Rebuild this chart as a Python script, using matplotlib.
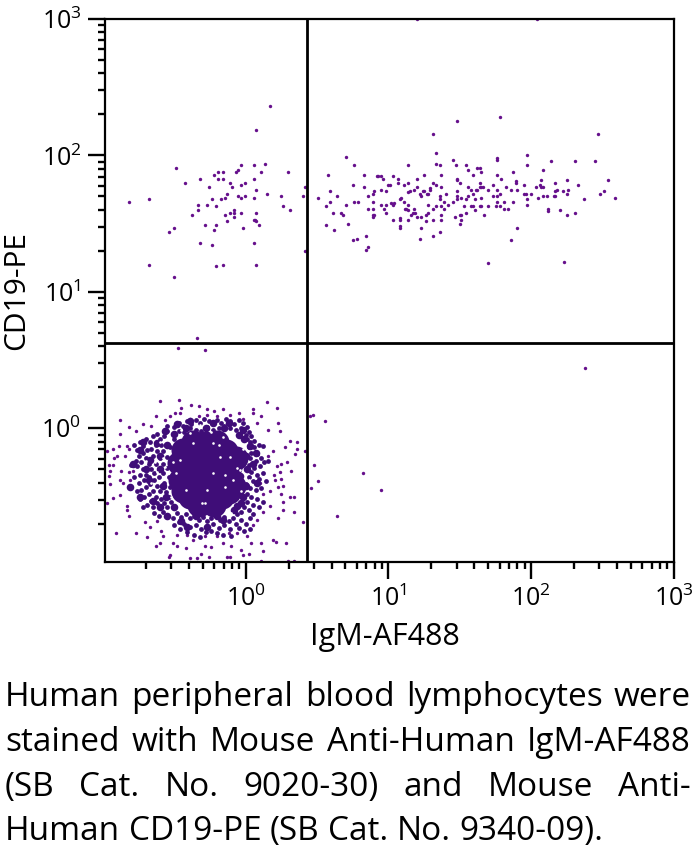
import numpy as np
import matplotlib
matplotlib.use("Agg")
import matplotlib.pyplot as plt

FONT = "Open Sans"
plt.rcParams['font.family'] = [FONT, 'DejaVu Sans']
plt.rcParams['mathtext.fontset'] = 'custom'
plt.rcParams['mathtext.rm'] = FONT
plt.rcParams['mathtext.default'] = 'rm'

# All events as (log10 IgM-AF488, log10 CD19-PE)
upper_right = [
(1.78,2.28),(1.48,2.25),(1.31,2.16),(2.47,2.16),(.70,1.99),(1.33,2.02),(1.97,2.00),(1.76,1.98),(1.76,1.97),(1.45,1.97),
(1.33,1.94),(.76,1.93),(1.14,1.93),(1.36,1.93),(1.47,1.93),(1.54,1.93),(1.97,1.93),(2.14,1.96),(2.31,1.96),(2.45,1.96),
(1.62,1.91),(1.64,1.91),(1.56,1.89),(1.87,1.88),(1.65,1.88),(2.08,1.89),(.58,1.86),(.83,1.86),(.92,1.85),(.93,1.85),
(.95,1.85),(.96,1.83),(1.03,1.85),(1.25,1.86),(1.37,1.86),(1.59,1.86),(1.76,1.86),(1.07,1.83),(1.20,1.83),(1.48,1.82),
(1.48,1.83),(1.79,1.83),(2.54,1.82),(2.25,1.82),(2.17,1.80),(2.07,1.82),(1.89,1.81),(1.89,1.80),(1.07,1.80),(1.14,1.80),
(1.31,1.80),(1.50,1.80),(1.64,1.80),(.75,1.78),(1.00,1.78),(1.01,1.78),(1.11,1.78),(1.33,1.78),(1.73,1.78),(1.95,1.78),
(2.33,1.78),(.83,1.77),(1.20,1.77),(1.37,1.77),(1.82,1.77),(1.65,1.77),(1.64,1.77),(1.66,1.77),(2.06,1.78),(2.03,1.77),
(2.08,1.77),(2.07,1.77),(.59,1.74),(.95,1.75),(.90,1.74),(1.18,1.75),(1.29,1.75),(1.29,1.76),(1.56,1.77),(1.575,1.75),
(1.61,1.75),(1.62,1.75),(1.70,1.75),(1.76,1.75),(1.86,1.75),(1.90,1.75),(2.18,1.75),(2.26,1.75),(2.22,1.74),(.98,1.74),
(1.14,1.735),(1.15,1.74),(1.24,1.74),(1.25,1.74),(1.40,1.72),(1.48,1.74),(1.59,1.72),(1.78,1.72),(1.95,1.72),(1.96,1.72),
(2.00,1.72),(2.17,1.74),(2.25,1.72),(2.48,1.72),(2.51,1.74),(.89,1.72),(1.22,1.72),(1.28,1.72),(1.27,1.72),(.64,1.705),
(.86,1.70),(1.23,1.70),(1.36,1.70),(1.48,1.70),(1.56,1.70),(1.73,1.70),(1.76,1.70),(2.08,1.70),(2.11,1.70),(2.17,1.70),
(2.16,1.70),(.51,1.69),(1.08,1.68),(1.09,1.69),(1.51,1.69),(1.65,1.69),(2.05,1.69),(2.59,1.69),(2.37,1.68),(.59,1.66),
(.70,1.64),(.76,1.66),(.79,1.66),(.89,1.66),(.95,1.64),(.98,1.64),(1.03,1.64),(1.02,1.65),(1.04,1.65),(1.11,1.66),
(1.14,1.64),(1.28,1.64),(1.36,1.68),(1.39,1.66),(1.42,1.64),(1.45,1.66),(1.48,1.68),(1.54,1.68),(1.605,1.68),(1.76,1.66),
(1.81,1.66),(1.87,1.66),(1.97,1.68),(1.97,1.64),(.56,1.63),(.86,1.61),(.89,1.61),(.97,1.61),(1.115,1.61),(1.125,1.61),
(1.18,1.61),(1.31,1.61),(1.33,1.63),(1.37,1.63),(1.39,1.61),(1.53,1.63),(1.575,1.63),(1.59,1.63),(1.64,1.63),(1.65,1.63),
(1.70,1.63),(1.75,1.63),(1.78,1.63),(1.81,1.61),(1.84,1.61),(1.14,1.60),(.98,1.58),(.61,1.58),(.67,1.58),(.68,1.56),
(1.185,1.58),(1.17,1.58),(1.28,1.58),(1.54,1.58),(1.605,1.60),(2.12,1.605),(2.12,1.595),(2.20,1.60),(2.31,1.58),(2.25,1.56),
(.89,1.56),(.90,1.56),(.89,1.55),(1.155,1.56),(1.26,1.56),(1.37,1.56),(1.51,1.56),(1.50,1.56),(1.67,1.56),(1.03,1.53),
(1.08,1.54),(1.08,1.53),(1.14,1.53),(1.20,1.55),(1.23,1.55),(1.31,1.53),(1.37,1.53),(1.465,1.55),(1.51,1.53),(1.26,1.52),
(1.50,1.50),(.72,1.50),(1.08,1.48),(1.08,1.47),(.56,1.49),(1.23,1.47),(1.90,1.47),(.62,1.45),(1.36,1.44),(.84,1.41),
(1.31,1.41),(.78,1.39),(1.22,1.39),(.75,1.38),(1.86,1.38),(.86,1.33),(.84,1.31),(1.70,1.21),(2.23,1.22),(1.20,3.00),(2.04,3.00),
]
upper_left = [
(.168,2.36),(.072,2.19),(-.488,1.91),(-.817,1.66),(-.677,1.68),(-.425,1.80),(-.317,1.83),(-.254,1.77),(-.222,1.86),(-.191,1.88),
(-.161,1.88),(-.191,1.83),(-.161,1.83),(-.112,1.80),(-.098,1.77),(-.065,1.88),(-.051,1.89),(-.035,1.93),(.058,1.93),(.135,1.94),
(.105,1.88),(.294,1.88),(.058,1.83),(-.005,1.80),(-.035,1.78),(.072,1.75),(-.131,1.72),(-.145,1.69),(-.175,1.68),(-.238,1.68),
(-.334,1.64),(-.271,1.64),(-.208,1.63),(-.334,1.60),(-.378,1.56),(-.051,1.70),(-.035,1.69),(-.005,1.70),(.058,1.69),(.152,1.72),
(.247,1.70),(.261,1.63),(.308,1.60),(.401,1.70),(.415,1.77),(-.112,1.58),(-.145,1.56),(-.082,1.60),(-.082,1.58),(-.035,1.58),
(.072,1.58),(-.082,1.55),(-.131,1.52),(.058,1.53),(.072,1.52),(.065,1.53),(-.208,1.49),(-.285,1.49),(-.222,1.45),(-.504,1.47),
(-.535,1.44),(-.019,1.47),(.091,1.49),(-.317,1.36),(-.238,1.34),(.058,1.36),(-.677,1.20),(-.161,1.20),(-.208,1.19),(.072,1.20),
(-.504,1.11),(.415,1.30),
]
lower_stray = [
(-.341,.662),(-.474,.589),(-.285,.574),(2.376,.442),(.45,.09),(.475,.10),(.555,.054),(.821,-.327),(.947,-.452),(.639,-.642),
(.506,-.39),(.48,-.27),(.46,-.44),
]
halo_outer = [
(-.47,.21),(-.60,.20),(-.38,.17),(-.33,.16),(-.455,.15),(-.27,.14),(-.22,.13),(-.16,.14),(.15,.19),(.22,.15),
(.05,.14),(-.46,.11),(-.53,.09),(-.63,.09),(-.05,.11),(-.11,.10),(.05,.11),(-.88,.06),(.23,.04),(.11,.09),
(-.72,.03),(-.82,.01),(-.77,-.02),(-.88,-.04),(-.66,.02),(-.565,.06),(-.495,.11),(-.39,.07),(-.33,.09),(-.27,.10),
(-.20,.09),(-.02,.07),(.08,.04),(.16,-.01),(.24,-.02),(.31,-.09),(.36,-.10),(.275,-.14),(.36,-.15),(.345,-.19),
(.415,-.17),(.19,-.17),(.16,-.20),(-.89,-.13),(-.93,-.15),(-.97,-.17),(-.83,-.13),(-.845,-.20),(-.90,-.20),(-.92,-.22),
(-.82,-.15),(-.96,-.27),(-.93,-.27),(-.87,-.31),(-.95,-.31),(-.96,-.35),(-.88,-.38),(-.86,-.40),(-.95,-.41),(-.93,-.51),
(-.88,-.49),(-.97,-.55),(-.83,-.57),(-.83,-.60),(-.815,-.64),(-.91,-.77),(-.77,-.77),(-.705,-.69),(-.69,-.80),(-.80,-.44),
(-.81,-.38),(-.79,-.31),(-.82,-.32),(.22,-.28),(.25,-.26),(.29,-.25),(.24,-.32),(.20,-.34),(.32,-.31),(.25,-.37),
(.205,-.38),(.26,-.42),(.23,-.43),(.25,-.48),(.31,-.50),(.34,-.50),(.26,-.54),(.26,-.60),(.34,-.61),(.23,-.66),
(.40,-.69),(.17,-.46),(.12,-.48),(.10,-.40),(.17,-.57),(.12,-.61),(.08,-.67),(.05,-.71),(-.60,-.84),(-.63,-.86),
(-.53,-.93),(-.54,-.94),(-.51,-.84),(-.48,-.86),(-.42,-.88),(-.39,-.95),(-.34,-.95),(-.31,-.92),(-.26,-.94),(-.24,-.87),
(-.285,-.86),(-.37,-.82),(-.16,-.84),(-.13,-.94),(-.11,-.94),(-.10,-.86),(-.03,-.89),(-.02,-.93),(.02,-.92),(.04,-.84),
(.11,-.84),(.12,-.90),(.19,-.82),(.21,-.83),(.28,-.84),(.11,-.97),(.30,-.97),(.34,-.97),(.01,-.79),(-.06,-.77),
(-.12,-.77),(-.20,-.79),(-.285,-.79),(-.41,-.78),(-.48,-.78),(-.58,-.79),(-.59,-.75),(-.67,-.72),(-.62,-.68),
]
halo_left = [
(-.78,-.12),(-.76,-.16),(-.74,-.10),(-.72,-.13),(-.70,-.08),(-.75,-.20),(-.72,-.18),(-.69,-.16),(-.67,-.10),(-.65,-.06),
(-.62,-.04),(-.60,-.08),(-.63,-.12),(-.66,-.15),(-.70,-.22),(-.73,-.25),(-.77,-.24),(-.80,-.27),(-.76,-.28),(-.72,-.30),
(-.68,-.26),(-.65,-.20),(-.62,-.17),(-.59,-.12),(-.57,-.06),(-.55,-.02),(-.58,-.17),(-.60,-.22),(-.63,-.26),(-.66,-.30),
(-.70,-.34),(-.74,-.34),(-.78,-.36),(-.75,-.40),(-.71,-.38),(-.68,-.36),(-.64,-.33),(-.61,-.30),(-.58,-.26),(-.55,-.21),
(-.53,-.14),(-.50,-.08),(-.67,-.41),(-.70,-.43),(-.73,-.45),(-.76,-.46),(-.64,-.38),(-.61,-.36),(-.58,-.33),(-.55,-.29),
(-.52,-.24),(-.62,-.42),(-.65,-.46),(-.68,-.48),(-.71,-.50),(-.74,-.52),(-.66,-.53),(-.63,-.50),(-.60,-.46),(-.57,-.40),
(-.54,-.36),(-.69,-.56),(-.72,-.58),(-.65,-.58),(-.62,-.55),(-.59,-.52),(-.56,-.47),(-.53,-.43),(-.60,-.58),(-.57,-.55),
(-.54,-.50),(-.64,-.62),(-.61,-.64),(-.58,-.61),(-.55,-.58),(-.52,-.54),
]
halo_top = [
(-.55,.02),(-.50,.01),(-.47,.04),(-.44,.02),(-.41,.05),(-.38,.03),(-.35,.06),(-.32,.04),(-.29,.07),(-.26,.05),
(-.23,.03),(-.20,.06),(-.17,.04),(-.14,.07),(-.11,.05),(-.08,.03),(-.05,.06),(-.02,.04),(.01,.01),(-.47,-.02),
(-.43,-.03),(-.39,.00),(-.35,-.01),(-.31,-.02),(-.27,.01),(-.23,-.01),(-.19,.00),(-.15,.02),(-.11,.00),(-.07,-.01),
(-.03,.00),(.02,-.03),(.04,-.06),(.00,-.05),(-.04,-.04),
]
halo_right = [
(.06,-.09),(.03,-.10),(.01,-.08),(.09,-.12),(.12,-.13),(.06,-.14),(.02,-.14),(.04,-.18),(.08,-.19),(.11,-.22),
(.07,-.24),(.03,-.22),(.02,-.27),(.06,-.29),(.10,-.28),(.13,-.25),(.16,-.24),(.04,-.32),(.08,-.34),(.12,-.33),
(.02,-.36),(.05,-.39),(.09,-.37),(.00,-.41),(.03,-.44),(.07,-.45),(.11,-.44),(.14,-.39),(.01,-.48),(.04,-.50),
(.08,-.52),(.01,-.54),(.05,-.56),(.09,-.58),(.12,-.54),(.02,-.60),(-.01,-.58),(.05,-.63),
]
halo_bottom = [
(-.48,-.62),(-.45,-.65),(-.42,-.63),(-.39,-.66),(-.36,-.64),(-.33,-.67),(-.30,-.65),(-.27,-.68),(-.24,-.66),(-.21,-.64),
(-.18,-.67),(-.15,-.65),(-.12,-.68),(-.09,-.66),(-.06,-.63),(-.03,-.61),(-.51,-.66),(-.47,-.69),(-.43,-.70),(-.39,-.72),
(-.35,-.71),(-.31,-.74),(-.27,-.72),(-.23,-.70),(-.19,-.73),(-.15,-.71),(-.11,-.74),(-.07,-.70),(-.03,-.67),(.00,-.70),
(.03,-.66),(-.50,-.71),(-.46,-.74),(-.41,-.76),(-.36,-.78),(-.32,-.80),(-.28,-.76),(-.24,-.75),(-.20,-.77),(-.16,-.78),
(-.10,-.79),(-.05,-.73),(-.01,-.75),(.03,-.74),
]
# Clumps where neighbouring events touch
clumps = [
(-.68,-.38),(-.74,-.16),(-.62,-.11),(-.67,-.23),(-.565,-.02),(-.39,.05),(-.23,.04),(-.02,-.01),(.03,-.13),(.05,-.26),
(-.04,-.35),(-.02,-.50),(-.06,-.57),(-.16,-.67),(-.27,-.72),(-.41,-.72),(-.55,-.64),(-.65,-.53),(-.74,-.50),(-.79,-.26),
(-.81,-.43),(-.55,-.12),(-.50,-.04),(-.05,-.05),(-.01,-.08),(-.56,-.50),(-.50,-.58),(-.08,-.60),(-.03,-.55),(-.60,-.30),
(-.58,-.42),(-.60,-.20),(.01,-.30),(.00,-.20),(.00,-.42),(-.20,-.64),(-.35,-.64),(-.28,.00),(-.15,.00),(-.42,.00),
(-.72,-.10),(-.70,-.30),(-.60,-.58),(-.45,-.68),(.07,-.18),(.08,-.40),(-.12,.04),(-.48,.03),
]
# Saturated centre of the population, where single events merge
core = [
(-.296,-.306),(-.413,-.306),(-.18,-.306),(-.296,-.184),(-.296,-.428),(-.39,-.196),(-.19,-.196),(-.39,-.416),(-.19,-.416),
(-.47,-.257),(-.46,-.379),(-.11,-.281),(-.11,-.379),(-.285,-.11),(-.366,-.098),(-.273,-.514),(-.39,-.501),(-.168,-.501),
(-.44,-.16),(-.14,-.17),(-.07,-.22),(-.44,-.46),(-.12,-.47),(-.08,-.42),(-.33,-.56),(-.22,-.56),(-.20,-.10),
]
# Unoccupied spots inside the dense population
gaps = [
(-.367,-.11),(-.227,-.11),(-.19,-.12),(-.507,-.245),(-.46,-.232),(-.227,-.325),(-.418,-.452),(-.488,-.325),(-.565,-.281),(-.635,-.245),
(-.577,-.22),(-.157,-.061),(-.39,-.037),(-.32,.024),(-.063,-.293),(-.04,-.306),(-.145,-.342),(-.087,-.379),(-.145,-.428),(-.273,-.452),
(-.308,-.55),(-.285,-.55),(-.11,-.208),(-.18,-.208),(-.60,-.10),(-.66,-.40),(-.52,-.50),(-.02,-.15),(.02,-.38),(-.10,-.62),
(-.44,-.60),(-.24,-.03),(-.45,-.01),(-.03,-.46),(-.62,-.32),(-.70,-.24),
]

x_gate = 2.71
y_gate = 4.22
x_limits = (0.1035, 1000)
y_limits = (0.1047, 1000)
major_ticks = [1, 10, 100, 1000]
x_tick_labels = [r"$10^{0}$", r"$10^{1}$", r"$10^{2}$", r"$10^{3}$"]
y_tick_labels = [r"$10^{0}$", r"$10^{1}$", r"$10^{2}$", r"$10^{3}$"]
minor_ticks = [m * 10.0 ** e for e in (-1, 0, 1, 2) for m in range(2, 10)]
x_label = "IgM-AF488"
y_label = "CD19-PE"
caption_lines = [
    "Human peripheral blood lymphocytes were",
    "stained with Mouse Anti-Human IgM-AF488",
    "(SB Cat. No. 9020-30) and Mouse Anti-",
    "Human CD19-PE (SB Cat. No. 9340-09).",
]

W, H = 700, 851
fig = plt.figure(figsize=(W / 100, H / 100), dpi=100, facecolor="white")
L, R, T, B = 105, 674, 19, 562
ax = fig.add_axes([L / W, 1 - B / H, (R - L) / W, (B - T) / H])
ax.set_xscale("log")
ax.set_yscale("log")
ax.set_xlim(*x_limits)
ax.set_ylim(*y_limits)

DOT = "#66108c"
DENSE = "#3f0d78"
def plot_group(pts, color=DOT, s=6.0, z=2):
    a = np.array(pts).T
    ax.scatter(10.0 ** a[0], 10.0 ** a[1], s=s, c=color, linewidths=0, zorder=z)

for g in (upper_right, upper_left, lower_stray, halo_outer):
    plot_group(g)
for g in (halo_left, halo_top, halo_right, halo_bottom):
    plot_group(g, color=DENSE, s=12)
plot_group(clumps, color=DENSE, s=30)
plot_group(core, color=DENSE, s=300)
plot_group(gaps, color="white", s=3.5, z=3)

ax.axvline(x_gate, color="black", lw=2.0, zorder=4)
ax.axhline(y_gate, color="black", lw=2.0, zorder=4)

for sp in ax.spines.values():
    sp.set_linewidth(1.6)
    sp.set_zorder(5)
ax.set_xticks(major_ticks)
ax.set_yticks(major_ticks)
ax.set_xticklabels(x_tick_labels)
ax.set_yticklabels(y_tick_labels)
ax.set_xticks([t for t in minor_ticks if t >= x_limits[0]], minor=True)
ax.set_yticks([t for t in minor_ticks if t >= y_limits[0]], minor=True)
ax.set_xticklabels([], minor=True)
ax.set_yticklabels([], minor=True)
ax.tick_params(which="major", length=12, width=1.7, labelsize=18, pad=5)
ax.tick_params(which="minor", length=5.2, width=1.7)

ax.set_xlabel(x_label, fontsize=22)
ax.xaxis.set_label_coords(385 / W, 1 - 637 / H, transform=fig.transFigure)
ax.xaxis.label.set_va("center")
ax.set_ylabel(y_label, fontsize=21.5)
ax.yaxis.set_label_coords(17 / W, 1 - 291 / H, transform=fig.transFigure)
ax.yaxis.label.set_va("center")

# Justified caption, set word by word
renderer = fig.canvas.get_renderer()
CAP_SIZE = 24
baselines = [706, 751, 796, 840]
x0, x1 = 5, 691
def width(word):
    t = fig.text(0, 0, word, fontsize=CAP_SIZE)
    w = t.get_window_extent(renderer).width
    t.remove()
    return w
space = width("a b") - width("a") - width("b")
for i, line in enumerate(caption_lines):
    words = line.split(" ")
    ws = [width(w) for w in words]
    gap = (x1 - x0 - sum(ws)) / (len(words) - 1) if i < 3 else space
    x = x0
    for w, wd in zip(words, ws):
        fig.text(x / W, 1 - baselines[i] / H, w, fontsize=CAP_SIZE, va="baseline", ha="left")
        x += wd + gap

fig.savefig("out.png", dpi=100, facecolor="white")
